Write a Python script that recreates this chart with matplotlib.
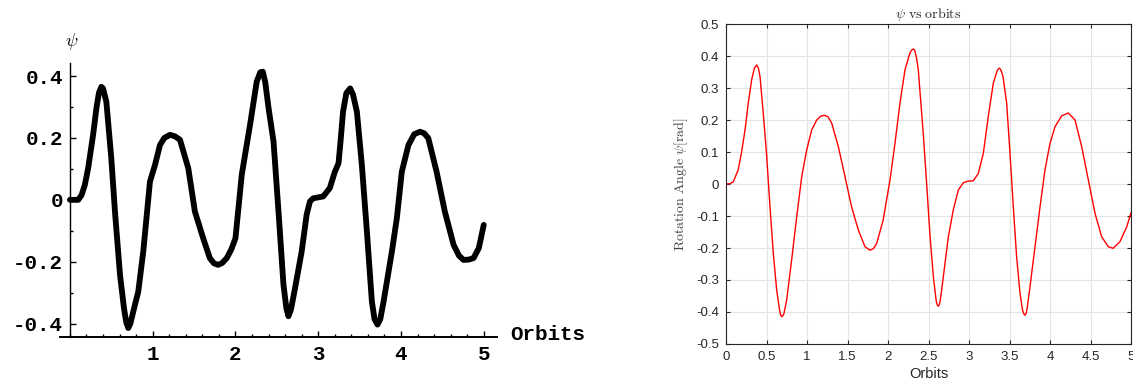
import matplotlib
matplotlib.use('Agg')
import matplotlib.pyplot as plt
from matplotlib.ticker import MultipleLocator, FixedLocator

plt.rcParams['axes.unicode_minus'] = False
plt.rcParams['mathtext.fontset'] = 'cm'

paper_orbits = [0.00, 0.10, 0.14, 0.18, 0.22, 0.28, 0.32, 0.35, 0.38, 0.40,
                0.44, 0.50, 0.544, 0.605, 0.653, 0.68, 0.705, 0.73, 0.766, 0.826,
                0.886, 0.967, 1.028, 1.088, 1.14, 1.21, 1.27, 1.33, 1.43, 1.51,
                1.61, 1.69, 1.74, 1.79, 1.84, 1.895, 1.95, 2.00, 2.076, 2.176,
                2.257, 2.30, 2.33, 2.36, 2.40, 2.46, 2.52, 2.58, 2.615, 2.64,
                2.67, 2.72, 2.80, 2.86, 2.90, 2.94, 3.06, 3.14, 3.20, 3.245,
                3.27, 3.30, 3.34, 3.386, 3.42, 3.467, 3.527, 3.588, 3.648, 3.68,
                3.716, 3.75, 3.79, 3.89, 3.95, 4.01, 4.09, 4.16, 4.23, 4.28,
                4.33, 4.43, 4.53, 4.635, 4.70, 4.755, 4.82, 4.877, 4.94, 5.00]
paper_psi = [0.000, 0.000, 0.015, 0.048, 0.102, 0.210, 0.296, 0.345, 0.365, 0.360,
             0.317, 0.134, -0.038, -0.242, -0.350, -0.395, -0.414, -0.400, -0.360, -0.296,
             -0.167, 0.059, 0.113, 0.177, 0.200, 0.210, 0.205, 0.194, 0.102, -0.038,
             -0.124, -0.188, -0.205, -0.210, -0.204, -0.188, -0.160, -0.124, 0.081, 0.242,
             0.382, 0.412, 0.414, 0.380, 0.296, 0.188, -0.038, -0.274, -0.350, -0.376,
             -0.355, -0.285, -0.167, -0.048, -0.005, 0.005, 0.011, 0.038, 0.090, 0.118,
             0.190, 0.285, 0.345, 0.360, 0.340, 0.285, 0.113, -0.102, -0.328, -0.385,
             -0.403, -0.385, -0.328, -0.167, -0.059, 0.091, 0.177, 0.212, 0.220, 0.215,
             0.199, 0.091, -0.038, -0.145, -0.180, -0.194, -0.193, -0.188, -0.156, -0.081]

# right panel: simulated rotation angle
sim_orbits = [0.00, 0.05, 0.09, 0.15, 0.19, 0.235, 0.275, 0.317, 0.35, 0.379,
              0.40, 0.42, 0.46, 0.50, 0.543, 0.584, 0.626, 0.66, 0.673, 0.688,
              0.703, 0.715, 0.749, 0.81, 0.873, 0.935, 0.996, 1.058, 1.12, 1.17,
              1.215, 1.26, 1.305, 1.387, 1.469, 1.55, 1.634, 1.716, 1.778, 1.82,
              1.86, 1.94, 2.025, 2.086, 2.148, 2.21, 2.27, 2.29, 2.312, 2.33,
              2.355, 2.374, 2.436, 2.478, 2.519, 2.56, 2.595, 2.607, 2.62, 2.633,
              2.645, 2.683, 2.745, 2.806, 2.868, 2.93, 2.99, 3.053, 3.115, 3.177,
              3.238, 3.30, 3.345, 3.36, 3.374, 3.388, 3.40, 3.42, 3.465, 3.506,
              3.547, 3.588, 3.63, 3.66, 3.675, 3.69, 3.705, 3.72, 3.753, 3.815,
              3.877, 3.938, 4.00, 4.062, 4.144, 4.226, 4.309, 4.391, 4.473, 4.556,
              4.638, 4.72, 4.78, 4.864, 4.947, 5.00]
sim_psi = [0.000, 0.001, 0.007, 0.044, 0.096, 0.169, 0.253, 0.326, 0.362, 0.372,
           0.362, 0.336, 0.221, 0.096, -0.071, -0.217, -0.332, -0.392, -0.408, -0.415,
           -0.411, -0.405, -0.363, -0.238, -0.102, 0.023, 0.106, 0.169, 0.200, 0.212,
           0.215, 0.210, 0.190, 0.117, 0.023, -0.071, -0.144, -0.196, -0.207, -0.202,
           -0.186, -0.113, 0.013, 0.127, 0.253, 0.357, 0.409, 0.418, 0.422, 0.418,
           0.390, 0.357, 0.155, -0.003, -0.163, -0.290, -0.365, -0.377, -0.382, -0.377,
           -0.365, -0.290, -0.165, -0.081, -0.019, 0.004, 0.009, 0.010, 0.033, 0.096,
           0.211, 0.315, 0.352, 0.359, 0.362, 0.359, 0.352, 0.336, 0.253, 0.096,
           -0.071, -0.228, -0.342, -0.393, -0.405, -0.410, -0.405, -0.385, -0.321, -0.196,
           -0.071, 0.044, 0.127, 0.179, 0.213, 0.222, 0.200, 0.117, 0.013, -0.092,
           -0.165, -0.196, -0.201, -0.180, -0.134, -0.090]

paper_xticks = [1, 2, 3, 4, 5]
paper_yticks = [-0.4, -0.2, 0, 0.2, 0.4]
paper_ylabels = ['-0.4', '-0.2', '0', '0.2', '0.4']

sim_xticks = [0, 0.5, 1, 1.5, 2, 2.5, 3, 3.5, 4, 4.5, 5]
sim_xlabels = ['0', '0.5', '1', '1.5', '2', '2.5', '3', '3.5', '4', '4.5', '5']
sim_yticks = [-0.5, -0.4, -0.3, -0.2, -0.1, 0, 0.1, 0.2, 0.3, 0.4, 0.5]
sim_ylabels = ['-0.5', '-0.4', '-0.3', '-0.2', '-0.1', '0', '0.1', '0.2', '0.3', '0.4', '0.5']

W, H = 1133, 383
fig = plt.figure(figsize=(W / 100, H / 100), dpi=100)

# ---- left: scanned-paper look ----
mono = 'Liberation Mono'
ax1 = fig.add_axes([60 / W, 46 / H, 437 / W, 274 / H])
ax1.plot(paper_orbits, paper_psi, color='black', lw=4.2, solid_capstyle='round',
         solid_joinstyle='round')
ax1.set_xlim(-0.12, 5.16)
ax1.set_ylim(-0.443, 0.442)
for s in ['top', 'right']:
    ax1.spines[s].set_visible(False)
ax1.spines['left'].set_position(('data', 0))
ax1.spines['left'].set_linewidth(1.0)
ax1.spines['bottom'].set_linewidth(1.4)
ax1.xaxis.set_major_locator(FixedLocator(paper_xticks))
ax1.xaxis.set_minor_locator(MultipleLocator(0.2))
ax1.yaxis.set_major_locator(FixedLocator(paper_yticks))
ax1.yaxis.set_minor_locator(MultipleLocator(0.1))
ax1.set_xticklabels([str(t) for t in paper_xticks])
ax1.set_yticklabels(paper_ylabels)
ax1.tick_params(which='both', direction='in', color='black', width=1)
ax1.tick_params(which='major', length=4)
ax1.tick_params(which='minor', length=2)
ax1.tick_params(axis='x', pad=6)
ax1.tick_params(axis='y', pad=5)
for lab in ax1.get_xticklabels() + ax1.get_yticklabels():
    lab.set_fontfamily(mono)
    lab.set_fontsize(15)
    lab.set_fontweight('bold')
fig.text(510 / W, 1 - 334 / H, 'Orbits', family=mono, fontsize=15,
         fontweight='bold', va='center', ha='left')
fig.text(72 / W, 1 - 41 / H, r'$\psi$', fontsize=13, va='center', ha='center')

# ---- right: MATLAB-style plot ----
ax2 = fig.add_axes([726 / W, 39 / H, 405 / W, 320 / H])
ax2.plot(sim_orbits, sim_psi, color='red', lw=1.0, solid_joinstyle='round')
ax2.set_xlim(0, 5)
ax2.set_ylim(-0.5, 0.5)
ax2.set_xticks(sim_xticks)
ax2.set_xticklabels(sim_xlabels)
ax2.set_yticks(sim_yticks)
ax2.set_yticklabels(sim_ylabels)
ax2.grid(True, color='#e3e3e3', lw=0.8)
ax2.set_axisbelow(True)
for s in ax2.spines.values():
    s.set_color('#262626')
    s.set_linewidth(0.8)
ax2.tick_params(direction='in', top=True, right=True, length=3, width=0.8,
                color='#262626', labelcolor='#262626', labelsize=9.5, pad=5)
for lab in ax2.get_xticklabels() + ax2.get_yticklabels():
    lab.set_fontfamily('Liberation Sans')
ax2.set_xlabel('Orbits', family='Liberation Sans', fontsize=10.5, color='#262626',
               labelpad=3)
ax2.set_ylabel(r'$\mathrm{Rotation\ Angle}\ \psi[\mathrm{rad}]$', fontsize=10,
               color='#404040', labelpad=4)
ax2.set_title(r'$\psi\ \mathrm{vs\ orbits}$', fontsize=10, color='#262626', pad=4)

fig.savefig('out.png', dpi=100)
